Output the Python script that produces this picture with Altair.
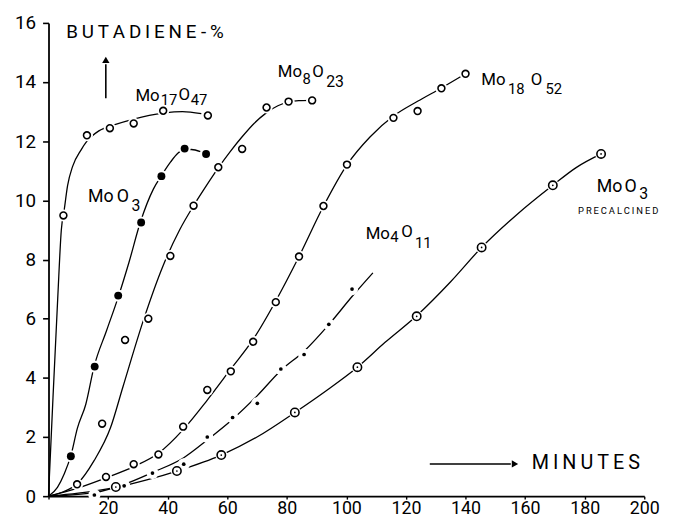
import altair as alt
import pandas as pd

FONT = "Roboto, sans-serif"

# ---- measured data points (minutes, butadiene %) ----
mo17_x = [5.0, 12.9, 20.6, 28.6, 38.5, 53.5]
mo17_y = [9.49, 12.2, 12.44, 12.6, 13.03, 12.87]

moo3_x = [7.5, 15.5, 23.4, 31.1, 37.9, 45.7, 52.9]
moo3_y = [1.35, 4.38, 6.78, 9.25, 10.82, 11.75, 11.57]

mo8_x = [9.6, 18.0, 25.7, 33.5, 40.9, 48.7, 57.0, 65.0, 73.2, 80.6, 88.5]
mo8_y = [0.4, 2.45, 5.28, 6.0, 8.12, 9.82, 11.12, 11.74, 13.14, 13.34, 13.38]

mo18_x = [19.3, 28.6, 36.9, 45.2, 53.3, 61.2, 68.7, 76.3, 84.1, 92.3, 100.2, 115.8, 123.9, 131.9, 140.0]
mo18_y = [0.65, 1.08, 1.41, 2.35, 3.59, 4.22, 5.22, 6.56, 8.1, 9.81, 11.21, 12.79, 13.02, 13.79, 14.28]

mo4_x = [15.4, 25.4, 34.9, 45.4, 53.3, 61.8, 70.1, 78.0, 85.8, 94.1, 101.9]
mo4_y = [0.04, 0.35, 0.78, 1.08, 2.0, 2.66, 3.14, 4.30, 4.79, 5.81, 7.0]

pre_x = [22.6, 43.1, 58.0, 82.7, 103.7, 123.6, 145.4, 169.3, 185.5]
pre_y = [0.31, 0.85, 1.39, 2.83, 4.36, 6.08, 8.41, 10.51, 11.57]

# ---- hand-drawn fitted curves (vertices) ----
c_mo17_x = [0, 1.4, 3.1, 4.3, 5.3, 6.4, 8.1, 10.9, 12.9, 16.9, 22, 28.6, 38.6, 45, 51.3]
c_mo17_y = [0, 3.1, 6.7, 9.0, 9.7, 10.5, 11.15, 11.7, 12.0, 12.35, 12.55, 12.75, 12.95, 13.0, 12.93]

c_moo3_x = [0, 3, 5.3, 7.5, 9.7, 12.5, 15.3, 19.5, 23.6, 27, 30.8, 35.2, 38, 41, 43.5, 45.7, 48, 51]
c_moo3_y = [0, 0.3, 0.76, 1.37, 2.3, 3.1, 4.38, 5.6, 6.79, 7.9, 9.25, 10.38, 10.85, 11.3, 11.6, 11.72, 11.72, 11.65]

c_mo8_x = [0, 5, 9.7, 15.3, 20.8, 25, 31.9, 38.5, 44, 48.7, 53, 57, 61, 65, 69, 73, 77, 80.6, 84, 88]
c_mo8_y = [0, 0.15, 0.42, 1.2, 2.31, 3.7, 5.96, 7.8, 9.0, 9.82, 10.5, 11.1, 11.65, 12.15, 12.6, 12.95, 13.2, 13.32, 13.37, 13.38]

c_mo18_x = [0, 10, 19.3, 28.6, 36.9, 45.2, 53.3, 61.2, 68.7, 76.3, 84.1, 92.3, 100.2, 108, 115.8, 123.9, 131.9, 140]
c_mo18_y = [0, 0.28, 0.62, 1.0, 1.45, 2.25, 3.25, 4.3, 5.3, 6.6, 8.1, 9.8, 11.2, 12.15, 12.85, 13.35, 13.8, 14.28]

c_mo4_x = [0, 15.4, 25.4, 34.9, 45.4, 53.3, 61.8, 70.1, 78, 85.8, 94.1, 101.9, 108.9]
c_mo4_y = [0, 0.12, 0.4, 0.8, 1.3, 1.9, 2.6, 3.4, 4.25, 4.9, 5.8, 6.75, 7.55]

c_pre_x = [0, 10, 22.6, 33, 43.1, 58, 70, 82.7, 93, 103.7, 113, 123.6, 135, 145.4, 157, 169.3, 177, 185.5]
c_pre_y = [0, 0.1, 0.3, 0.55, 0.85, 1.39, 2.0, 2.83, 3.55, 4.36, 5.2, 6.1, 7.25, 8.41, 9.5, 10.51, 11.1, 11.57]

x_ticks = list(range(0, 201, 20))
y_ticks = list(range(0, 17, 2))

# ---- annotation texts ----
TS = "\u2009"
ann_text = [TS.join("BUTADIENE") + " " + "-" + TS + "%",
            "Mo", "17", "O", "47",
            "Mo", "O", "3",
            "Mo", "8", "O", "23",
            "Mo", "18", "O", "52",
            "Mo", "4", "O", "11",
            "Mo", "O", "3",
            TS.join("PRECALCINED"),
            TS.join("MINUTES")]
ann_x = [5.97,
         29.19, 37.64, 43.62, 47.76,
         13.27, 22.89, 27.86,
         76.95, 85.24, 88.56, 93.2,
         145.27, 154.23, 161.86, 166.83,
         106.47, 114.76, 118.41, 123.05,
         184.08, 193.37, 198.34,
         177.78,
         162.19]
ann_y = [15.50,
         13.35, 13.22, 13.38, 13.22,
         9.94, 9.94, 9.64,
         14.18, 13.95, 14.18, 13.85,
         13.91, 13.58, 13.91, 13.58,
         8.71, 8.58, 8.75, 8.38,
         10.27, 10.27, 10.03,
         9.54,
         0.93]
ann_size = [19,
            17, 15, 17, 15,
            18, 18, 16,
            17, 15, 17, 16,
            17, 15, 17, 15,
            17, 15, 17, 15,
            18, 18, 16,
            9.5,
            20]

# arrows
arrow_shaft_x = [19.24, 128.0]
arrow_shaft_x2 = [19.24, 155.2]
arrow_shaft_y = [13.45, 1.09]
arrow_shaft_y2 = [14.6, 1.09]
arrow_head_x = [19.24, 156.6]
arrow_head_y = [14.75, 1.09]
arrow_head_shape = ["triangle-up", "triangle-right"]


def frame(name, xs, ys):
    return pd.DataFrame({"series": name, "x": xs, "y": ys, "i": range(len(xs))})


curves = pd.concat([
    frame("Mo17O47", c_mo17_x, c_mo17_y),
    frame("MoO3", c_moo3_x, c_moo3_y),
    frame("Mo8O23", c_mo8_x, c_mo8_y),
    frame("Mo18O52", c_mo18_x, c_mo18_y),
    frame("Mo4O11", c_mo4_x, c_mo4_y),
    frame("MoO3 precalcined", c_pre_x, c_pre_y),
], ignore_index=True)

open_pts = pd.concat([
    frame("Mo17O47", mo17_x, mo17_y),
    frame("Mo8O23", mo8_x, mo8_y),
    frame("Mo18O52", mo18_x, mo18_y),
], ignore_index=True)
big_dots = frame("MoO3", moo3_x, moo3_y)
small_dots = frame("Mo4O11", mo4_x, mo4_y)
pre_pts = frame("MoO3 precalcined", pre_x, pre_y)
all_pts = pd.concat([open_pts, big_dots, small_dots, pre_pts], ignore_index=True)

ann = pd.DataFrame({"t": ann_text, "x": ann_x, "y": ann_y, "fs": ann_size})
shafts = pd.DataFrame({"x": arrow_shaft_x, "x2": arrow_shaft_x2,
                       "y": arrow_shaft_y, "y2": arrow_shaft_y2})
heads = pd.DataFrame({"x": arrow_head_x, "y": arrow_head_y, "shape": arrow_head_shape})

xscale = alt.Scale(domain=[0, 200], nice=False, zero=True)
yscale = alt.Scale(domain=[0, 16], nice=False, zero=True)

x_axis = alt.Axis(values=x_ticks, labelExpr="datum.value == 0 ? '' : datum.label",
                  tickSize=3, labelPadding=1, labelFontSize=18, grid=False, labelFlush=False,
                  domainColor="black", domainWidth=1.6, tickColor="black", tickWidth=1.4,
                  labelColor="black", labelFont=FONT, title=None)
y_axis = alt.Axis(values=y_ticks, tickSize=6, labelPadding=7, labelFontSize=19, grid=False,
                  labelFlush=False,
                  domainColor="black", domainWidth=1.8, tickColor="black", tickWidth=1.6,
                  labelColor="black", labelFont=FONT, title=None)

X = alt.X("x:Q", scale=xscale, axis=x_axis)
Y = alt.Y("y:Q", scale=yscale, axis=y_axis)

lines = alt.Chart(curves).mark_line(interpolate="monotone", color="black", strokeWidth=1.3).encode(
    x=X, y=Y, detail="series:N", order="i:Q")

halos = alt.Chart(all_pts).mark_circle(color="white", size=150, opacity=1).encode(x=X, y=Y)

open_marks = alt.Chart(open_pts).mark_point(shape="circle", filled=True, fill="white", stroke="black",
                                            strokeWidth=1.6, size=48, opacity=1).encode(x=X, y=Y)
big_marks = alt.Chart(big_dots).mark_circle(color="black", size=64, opacity=1).encode(x=X, y=Y)
small_marks = alt.Chart(small_dots).mark_circle(color="black", size=14, opacity=1).encode(x=X, y=Y)
pre_marks = alt.Chart(pre_pts).mark_point(shape="circle", filled=True, fill="white", stroke="black",
                                          strokeWidth=1.6, size=72, opacity=1).encode(x=X, y=Y)
pre_centers = alt.Chart(pre_pts).mark_circle(color="black", size=3, opacity=1).encode(x=X, y=Y)

texts = alt.Chart(ann).mark_text(align="left", baseline="alphabetic", font=FONT, color="black").encode(
    x=X, y=Y, text="t:N", size=alt.Size("fs:Q", scale=None))

shaft_marks = alt.Chart(shafts).mark_rule(color="black", strokeWidth=1.6).encode(
    x=X, x2="x2:Q", y=Y, y2="y2:Q")
head_marks = alt.Chart(heads).mark_point(filled=True, color="black", size=55, opacity=1).encode(
    x=X, y=Y, shape=alt.Shape("shape:N", scale=None))

chart = alt.layer(lines, halos, open_marks, big_marks, small_marks, pre_marks, pre_centers,
                  texts, shaft_marks, head_marks).properties(
    width=603, height=479,
    autosize=alt.AutoSizeParams(type="none"),
    padding={"left": 41, "top": 12, "right": 22, "bottom": 18},
    background="white",
).configure_view(stroke=None)

chart.save("out.html", embed_options={"renderer": "svg", "actions": False})
